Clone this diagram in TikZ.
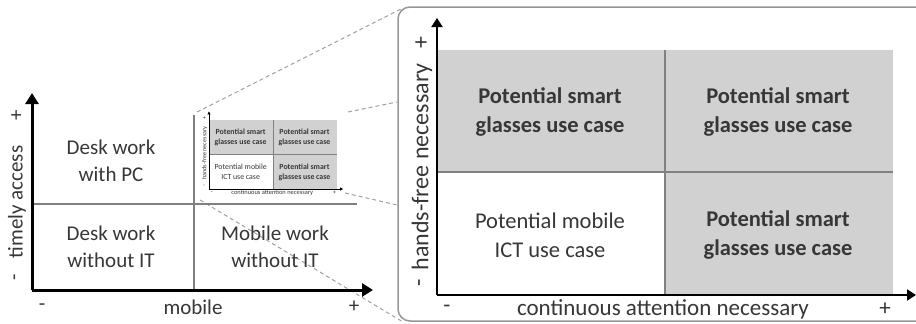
\documentclass[tikz,border=0pt]{standalone}
\usepackage{fontspec}
\setmainfont{Carlito}
\usetikzlibrary{arrows.meta}
\definecolor{cellfill}{RGB}{209,209,209}
\definecolor{txt}{RGB}{55,55,55}
\definecolor{divcol}{RGB}{128,128,128}
\definecolor{dashcol}{RGB}{160,160,160}
\definecolor{framecol}{RGB}{150,150,150}
\tikzset{
  axisline/.style={line width=2pt, -{Triangle[length=9pt,width=11pt]}},
  bigaxis/.style={line width=3pt, -{Triangle[length=11pt,width=13pt]}},
  divider/.style={draw=divcol, line width=1.4pt},
  leftdiv/.style={draw=divcol, line width=1.6pt},
  celltext/.style={align=center, text=txt, font=\fontsize{22.5}{29}\selectfont\bfseries},
  celltextreg/.style={align=center, text=txt, font=\fontsize{22.5}{29}\selectfont},
  axlabel/.style={text=txt, font=\fontsize{23}{26}\selectfont},
  yaxlabel/.style={text=txt, font=\fontsize{24}{26}\selectfont, rotate=90},
  leftlabel/.style={text=txt, font=\fontsize{21}{24}\selectfont},
  lefttext/.style={align=center, text=txt, font=\fontsize{21}{27}\selectfont},
  zoomline/.style={draw=dashcol, line width=1pt, dash pattern=on 4pt off 3pt},
  framebox/.style={draw=framecol, line width=1.5pt, rounded corners=12pt},
}
\newcommand\quadpanel[1]{%
  \fill[cellfill] (0,0) rectangle (456,-245);
  \fill[white] (0,0) rectangle (228,-123);
  \coordinate (#1vt) at (228,-245);
  \coordinate (#1vb) at (228,0);
  \coordinate (#1hl) at (0,-123);
  \coordinate (#1hr) at (456,-123);
  \draw[divider] (#1vb) -- (#1vt);
  \draw[divider] (#1hl) -- (#1hr);
  \node[celltext] (#1tl) at (113,-183) {Potential smart\\glasses use case};
  \node[celltext] (#1tr) at (341,-183) {Potential smart\\glasses use case};
  \node[celltextreg] (#1bl) at (113,-60) {Potential mobile\\ICT use case};
  \node[celltext] (#1br) at (341,-60) {Potential smart\\glasses use case};
  \node[axlabel] (#1xl) at (226,14) {continuous attention necessary};
  \node[axlabel] (#1xm) at (10,14) {-};
  \node[axlabel] (#1xp) at (448,14) {+};
  \node[yaxlabel] (#1yl) at (-15,-128) {hands-free necessary};
  \node[yaxlabel] (#1yp) at (-15,-252) {+};
  \node[yaxlabel] (#1ym) at (-15,-12) {-};
  \coordinate (#1o) at (0,0);
  \coordinate (#1yt) at (0,-277);
  \coordinate (#1xt) at (479,0);
  \draw[axisline] (#1o) -- (#1yt);
  \draw[axisline] (#1o) -- (#1xt);
}
\begin{document}
\begin{tikzpicture}[x=1pt, y=-1pt]
\useasboundingbox (0,0) rectangle (916,324);
% right panel frame
\begin{scope}
  \clip (0,0) rectangle (916,324);
  \draw[framebox] (398,7) rectangle (960,321);
\end{scope}
% dashed zoom lines
\coordinate (itl) at (197,112);
\coordinate (itr) at (348,112);
\coordinate (ibr) at (345,193);
\coordinate (ibl) at (200,200);
\coordinate (ptl) at (403,8);
\coordinate (pl1) at (397,102);
\coordinate (pl2) at (397,205);
\coordinate (pbl) at (403,322);
\draw[zoomline] (itl) -- (ptl);
\draw[zoomline] (itr) -- (pl1);
\draw[zoomline] (ibr) -- (pl2);
\draw[zoomline] (ibl) -- (pbl);
% left diagram
\coordinate (lo) at (32,290);
\coordinate (lyt) at (32,93);
\coordinate (lxt) at (373,290);
\coordinate (lvt) at (194,115);
\coordinate (lvb) at (194,290);
\coordinate (lhl) at (32,204);
\coordinate (lhr) at (357,204);
\draw[leftdiv] (lvb) -- (lvt);
\draw[leftdiv] (lhl) -- (lhr);
\node[lefttext] (q1) at (111,161) {Desk work\\with PC};
\node[lefttext] (q3) at (111,247) {Desk work\\without IT};
\node[lefttext] (q4) at (275,247) {Mobile work\\without IT};
\node[leftlabel] (lxl) at (193,307) {mobile};
\node[leftlabel] (lxm) at (42,307) {-};
\node[leftlabel] (lxp) at (354,307) {+};
\node[leftlabel, rotate=90] (lyl) at (17,202) {timely access};
\node[leftlabel, rotate=90] (lyp) at (17,115) {+};
\node[leftlabel, rotate=90] (lym) at (17,277) {-};
\draw[bigaxis] (lo) -- (lyt);
\draw[bigaxis] (lo) -- (lxt);
% inset
\begin{scope}[shift={(209,189)}, scale=0.28, transform shape,
  axisline/.style={line width=0.8pt, -{Triangle[length=3pt,width=3pt]}},
  divider/.style={draw=divcol, line width=0.5pt},
  celltext/.style={align=center, text=txt, font=\fontsize{28}{36}\selectfont\bfseries},
  celltextreg/.style={align=center, text=txt, font=\fontsize{28}{36}\selectfont},
  yaxlabel/.style={text=txt, font=\fontsize{22}{26}\selectfont, rotate=90}]
  \quadpanel{s}
\end{scope}
% big panel
\begin{scope}[shift={(437,295)}]
  \quadpanel{b}
\end{scope}
\end{tikzpicture}
\end{document}
